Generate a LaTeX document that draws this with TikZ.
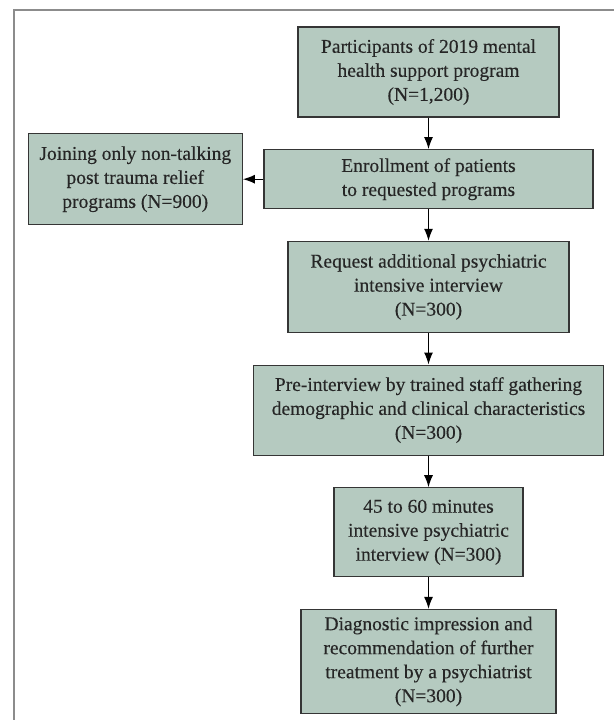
\documentclass[tikz,border=0pt]{standalone}
\usepackage{fontspec}
\setmainfont{Liberation Serif}[FakeBold=0.3]
\usepackage{xcolor}
\usetikzlibrary{
    positioning,
    arrows.meta
}
\definecolor{BoxFill}{HTML}{B5CAC0}
\definecolor{BoxLine}{HTML}{353535}
\definecolor{TextDark}{HTML}{262626}
\definecolor{FrameGray}{HTML}{8C8C8C}

\begin{document}
\begin{tikzpicture}[
                x=1pt, y=-1pt,
                node distance=31.5pt,
                every node/.style={align=center, text=TextDark,
                    font=\fontsize{19.5}{24}\selectfont},
                stage/.style={draw=BoxLine, fill=BoxFill, line width=1.2pt, inner sep=2pt},
                flow/.style={-{Latex[length=12pt,width=9pt]}, line width=1.2pt, black}
            ]

                \useasboundingbox (0,0) rectangle (614,720);

                % outer frame (cut at right and bottom)
                \draw[FrameGray, line width=1.5pt] (14,720) -- (14,10) -- (614,10);


                \node[
                    stage,
                    minimum width=261pt,
                    minimum height=90pt
                ] (participants) at (428.5,72) {
                    Participants of 2019 mental\\
                    health support program\\
                    (N=1,200)
                };


                \node[
                    stage,
                    below=of participants,
                    minimum width=329pt,
                    minimum height=59pt
                ] (enrollment) {
                    Enrollment of patients\\
                    to requested programs
                };


                \node[
                    stage,
                    left=20.5pt of enrollment,
                    minimum width=214pt,
                    minimum height=91pt
                ] (nontalking) {
                    Joining only non-talking\\
                    post trauma relief\\
                    programs (N=900)
                };


                \node[
                    stage,
                    below=of enrollment,
                    minimum width=281pt,
                    minimum height=91pt
                ] (request) {
                    Request additional psychiatric\\
                    intensive interview\\
                    (N=300)
                };


                \node[
                    stage,
                    below=of request,
                    minimum width=350pt,
                    minimum height=90pt
                ] (preinterview) {
                    Pre-interview by trained staff gathering\\
                    demographic and clinical characteristics\\
                    (N=300)
                };


                \node[
                    stage,
                    below=of preinterview,
                    minimum width=189pt,
                    minimum height=89pt
                ] (interview) {
                    45 to 60 minutes\\
                    intensive psychiatric\\
                    interview (N=300)
                };


                \node[
                    stage,
                    below=of interview,
                    minimum width=255pt,
                    minimum height=104pt
                ] (diagnosis) {
                    Diagnostic impression and\\
                    recommendation of further\\
                    treatment by a psychiatrist\\
                    (N=300)
                };


                \draw[flow]
                    (participants) -- (enrollment);

                \draw[flow]
                    (enrollment) -- (nontalking);

                \draw[flow]
                    (enrollment) -- (request);

                \draw[flow]
                    (request) -- (preinterview);

                \draw[flow]
                    (preinterview) -- (interview);

                \draw[flow]
                    (interview) -- (diagnosis);

            \end{tikzpicture}
\end{document}
